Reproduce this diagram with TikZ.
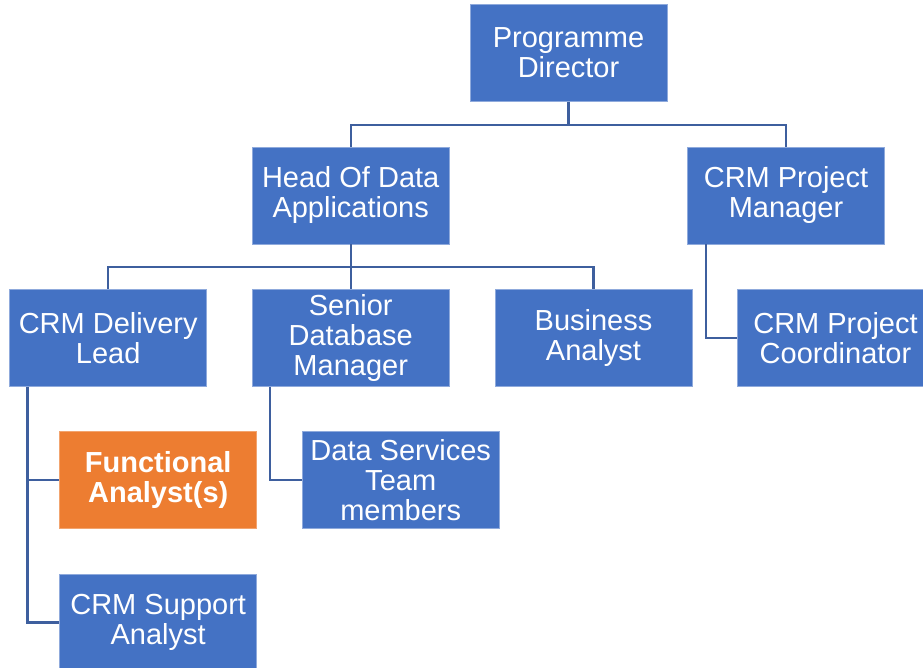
\documentclass[tikz,border=0pt]{standalone}
\usepackage{fontspec}
\setmainfont{Liberation Sans}
\definecolor{boxblue}{HTML}{4472C4}
\definecolor{boxorange}{HTML}{ED7D31}
\definecolor{edgeblue}{HTML}{3E5F9E}
\definecolor{rimblue}{HTML}{8FAADC}
\begin{document}
\begin{tikzpicture}[x=1pt,y=-1pt,
  orgbox/.style={draw=rimblue,line width=0.6pt,fill=boxblue,text=white,
    minimum width=197pt,minimum height=97pt,inner sep=0pt,align=center,
    font=\fontsize{29}{30}\selectfont},
  hotbox/.style={orgbox,fill=boxorange,draw=boxorange!70!white,
    font=\fontsize{29}{30}\selectfont\bfseries},
  link/.style={draw=edgeblue,line width=2.3pt}]
\clip (0,0) rectangle (923,667);
\useasboundingbox (0,0) rectangle (923,667);
\node[orgbox] (pd) at (568.5,53) {Programme\\Director};
\node[orgbox] (hod) at (350.7,195.3) {Head Of Data\\Applications};
\node[orgbox] (pm) at (786,195.3) {CRM Project\\Manager};
\node[orgbox] (dl) at (108.2,338) {CRM Delivery\\Lead};
\node[orgbox] (sdm) at (350.7,338) {Senior\\Database\\Manager};
\node[orgbox] (ba) at (593.5,338) {Business\\Analyst};
\node[orgbox] (pc) at (835.5,338) {CRM Project\\Coordinator};
\node[hotbox] (fa) at (158.2,480.2) {Functional\\Analyst(s)};
\node[orgbox] (ds) at (400.7,480.2) {Data Services\\Team\\members};
\node[orgbox] (sa) at (158.2,622.5) {CRM Support\\Analyst};
% connectors
\draw[link] (pd.south) -- ++(0,23) -| (hod.north);
\draw[link] (pd.south) -- ++(0,23) -| (pm.north);
\draw[link] (hod.south) -- ++(0,23) -| (dl.north);
\draw[link] (hod.south) -- (sdm.north);
\draw[link] (hod.south) -- ++(0,23) -| (ba.north);
\draw[link] (pm.south west) ++(19,0) |- (pc.west);
\draw[link] (dl.south west) ++(18,0) |- (fa.west);
\draw[link] (dl.south west) ++(18,0) |- (sa.west);
\draw[link] (sdm.south west) ++(18,0) |- (ds.west);
\end{tikzpicture}
\end{document}
